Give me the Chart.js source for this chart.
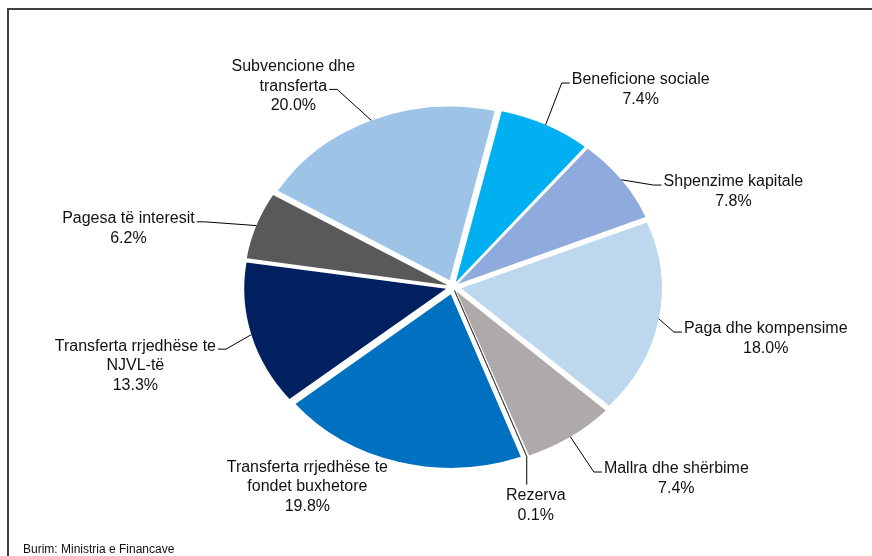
<!DOCTYPE html>
<html>
<head>
<meta charset="utf-8">
<script src="https://cdn.jsdelivr.net/npm/chart.js@4"></script>
<style>
  body { margin: 0; background: #fff; }
  #wrap { width: 872px; height: 556px; }
</style>
</head>
<body>
<div id="wrap"><canvas id="budget-chart" width="872" height="556"></canvas></div>
<script>
// slices, clockwise from the top
const categories = [
  ['Beneficione sociale'],
  ['Shpenzime kapitale'],
  ['Paga dhe kompensime'],
  ['Mallra dhe shërbime'],
  ['Rezerva'],
  ['Transferta rrjedhëse te', 'fondet buxhetore'],
  ['Transferta rrjedhëse te', 'NJVL-të'],
  ['Pagesa të interesit'],
  ['Subvencione dhe', 'transferta']
];
const shares = [7.4, 7.8, 18.0, 7.4, 0.1, 19.8, 13.3, 6.2, 20.0];
const sourceNote = 'Burim: Ministria e Financave';

const colors = ['#00B0F0', '#8FAADC', '#BDD7EE', '#AEAAAA', '#FFFFFF',
                '#0070C0', '#002060', '#595959', '#9DC3E6'];

// label block placement relative to the slice edge, and where the leader goes
const labelShift = [[95, -35], [112, 12], [107, 20], [106, 42], [9, 49],
                    [-91, 25], [-116, 31], [-128, 3], [-78, -34]];
const leaderSide = ['left', 'left', 'left', 'left', 'top', 'none', 'right', 'right', 'right'];
const leaderLine = [0, 0, 0, 0, 0, 0, 0, 0, 1];

const explode = 9;      // px each slice is pulled out
const squash = 0.866;   // vertical scale of the pie
const font = '16px "Liberation Sans", Arial, sans-serif';
const lineH = 19.5;

// chart.js v4 moves an arc by offset/4 * (2 - sin(angle)), undo that so all move the same
const offsets = shares.map(function (v) {
  const a = Math.min(Math.PI, v / 100 * 2 * Math.PI);
  return 4 * explode / (2 - Math.sin(a));
});

const squashPlugin = {
  id: 'squash',
  beforeDatasetsDraw: function (chart) {
    const ctx = chart.ctx;
    const arc = chart.getDatasetMeta(0).data[0];
    ctx.save();
    ctx.translate(arc.x, arc.y);
    ctx.scale(1, squash);
    ctx.translate(-arc.x, -arc.y);
  },
  afterDatasetsDraw: function (chart) {
    chart.ctx.restore();
  },
  beforeDraw: function (chart) {
    const ctx = chart.ctx;
    ctx.save();
    ctx.fillStyle = '#404040';
    ctx.fillRect(7, 8, 865, 2);
    ctx.fillRect(7, 8, 2, 548);
    ctx.restore();
  },
  afterDraw: function (chart) {
    const ctx = chart.ctx;
    const arcs = chart.getDatasetMeta(0).data;
    ctx.save();
    ctx.font = font;
    ctx.fillStyle = '#111';
    ctx.strokeStyle = '#000';
    ctx.lineWidth = 1;
    ctx.textAlign = 'center';
    ctx.textBaseline = 'middle';

    arcs.forEach(function (arc, i) {
      const mid = (arc.startAngle + arc.endAngle) / 2;
      const r = arc.outerRadius + explode;
      const ex = arc.x + Math.cos(mid) * r;
      const ey = arc.y + Math.sin(mid) * r * squash;

      const lines = categories[i].concat([shares[i].toFixed(1) + '%']);
      const cx = ex + labelShift[i][0];
      const cy = ey + labelShift[i][1];
      const top = cy - (lines.length - 1) * lineH / 2;

      lines.forEach(function (t, k) {
        ctx.fillText(t, cx, top + k * lineH);
      });

      const side = leaderSide[i];
      if (side === 'none') return;
      ctx.beginPath();
      ctx.moveTo(ex, ey);
      if (side === 'top') {
        ctx.lineTo(ex, top - 11);
      } else {
        const w = ctx.measureText(lines[leaderLine[i]]).width;
        const ly = top + leaderLine[i] * lineH + 3;
        const ax = side === 'left' ? cx - w / 2 - 2 : cx + w / 2 + 2;
        const bx = side === 'left' ? ax - 8 : ax + 8;
        ctx.lineTo(bx, ly);
        ctx.lineTo(ax, ly);
      }
      ctx.stroke();
    });

    ctx.font = '12px "Liberation Sans", Arial, sans-serif';
    ctx.textAlign = 'left';
    ctx.textBaseline = 'alphabetic';
    ctx.fillText(sourceNote, 23, 553);
    ctx.restore();
  }
};

const data = {
  labels: categories.map(function (c) { return c.join(' '); }),
  datasets: [{
    data: shares,
    backgroundColor: colors,
    borderColor: '#3f3f3f',
    borderWidth: shares.map(function (v) { return v < 1 ? 1 : 0; }),
    offset: offsets
  }]
};

const config = {
  type: 'pie',
  data: data,
  options: {
    responsive: false,
    animation: false,
    rotation: 13,
    radius: 200,
    layout: {
      padding: { left: 34, right: 0, top: 18, bottom: 0 }
    },
    plugins: {
      legend: { display: false },
      tooltip: { enabled: false }
    }
  },
  plugins: [squashPlugin]
};

new Chart(document.getElementById('budget-chart'), config);
</script>
</body>
</html>
